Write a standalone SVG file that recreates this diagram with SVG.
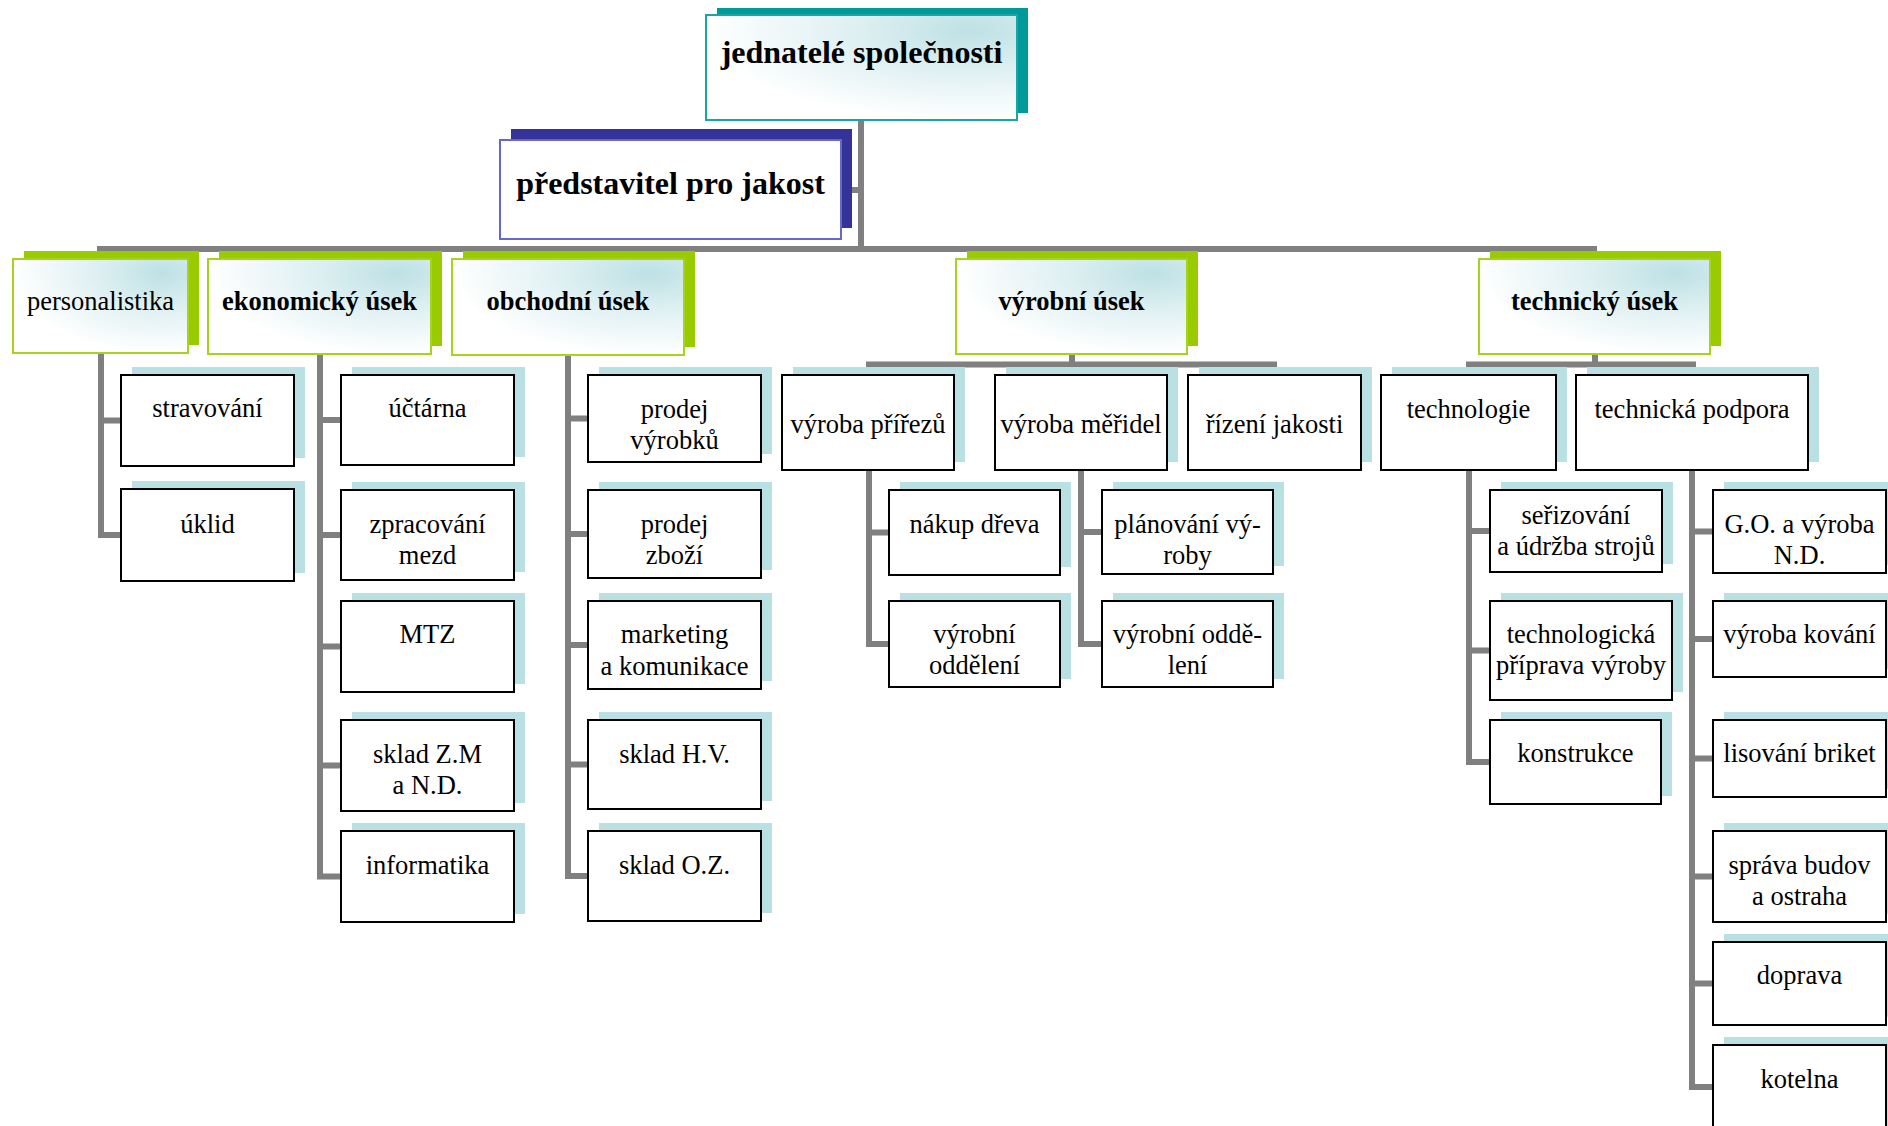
<svg xmlns="http://www.w3.org/2000/svg" width="1888" height="1126" viewBox="0 0 1888 1126">
<defs>
<style>
.sh3{fill:#b9e0e3}
.b3{fill:#ffffff;stroke:#000000;stroke-width:2}
.sh2{fill:#99cc00}
.b2{fill:url(#g);stroke:#a6d41e;stroke-width:2}
.t{font-family:"Liberation Serif","Times New Roman",serif;font-size:26.5px;fill:#000000;text-anchor:middle}
.tb{font-weight:bold}
.big{font-size:32px}
.c{fill:none;stroke:#808080;stroke-width:6;stroke-linejoin:miter;stroke-linecap:butt}
</style>
<radialGradient id="g" cx="0.85" cy="0.15" r="0.85">
<stop offset="0" stop-color="#bde1e5"/>
<stop offset="0.45" stop-color="#dff0f2"/>
<stop offset="1" stop-color="#ffffff"/>
</radialGradient>
</defs>
<rect width="1888" height="1126" fill="#ffffff"/>

<g id="connectors">
<path class="c" d="M861,120 V249"/>
<path class="c" d="M841,190 H861"/>
<path class="c" d="M97,249 H1597"/>
<path class="c" d="M101,353 V535 H121 M101,420.5 H121"/>
<path class="c" d="M320,354 V876.5 H341 M320,420 H341 M320,535 H341 M320,646.5 H341 M320,765.5 H341"/>
<path class="c" d="M568,355 V876 H588 M568,418.5 H588 M568,534 H588 M568,645 H588 M568,764.5 H588"/>
<path class="c" d="M1072,354 V364.5 M866,364.5 H1277"/>
<path class="c" d="M869,470 V644 H889 M869,532.5 H889"/>
<path class="c" d="M1081,470 V644 H1102 M1081,532 H1102"/>
<path class="c" d="M1595,354 V364.5 M1466,364.5 H1696"/>
<path class="c" d="M1469,470 V762 H1490 M1469,531 H1490 M1469,650.5 H1490"/>
<path class="c" d="M1692,470 V1087 H1713 M1692,531.5 H1713 M1692,639 H1713 M1692,758.5 H1713 M1692,876.5 H1713 M1692,983.5 H1713"/>
</g>

<g id="jednatele">
<rect x="717" y="8" width="311" height="105" fill="#009999"/>
<rect x="706" y="15" width="311" height="105" fill="url(#g)" stroke="#1aa5a5" stroke-width="2"/>
<text class="t tb big" x="861.5" y="63">jednatelé společnosti</text>
</g>
<g id="predstavitel">
<rect x="511" y="129" width="341" height="99" fill="#333399"/>
<rect x="500" y="140" width="341" height="99" fill="#ffffff" stroke="#6666cc" stroke-width="2"/>
<text class="t tb big" x="670.5" y="194">představitel pro jakost</text>
</g>

<g id="personalistika">
<rect class="sh2" x="24" y="251" width="175" height="94"/>
<rect class="b2" x="13" y="259" width="175" height="94"/>
<text class="t" x="100.5" y="310">personalistika</text>
</g>
<g id="ekonomicky">
<rect class="sh2" x="219" y="251" width="223" height="95"/>
<rect class="b2" x="208" y="259" width="223" height="95"/>
<text class="t tb" x="319.5" y="310">ekonomický úsek</text>
</g>
<g id="obchodni">
<rect class="sh2" x="463" y="251" width="232" height="96"/>
<rect class="b2" x="452" y="259" width="232" height="96"/>
<text class="t tb" x="568" y="310">obchodní úsek</text>
</g>
<g id="vyrobni">
<rect class="sh2" x="967" y="251" width="231" height="95"/>
<rect class="b2" x="956" y="259" width="231" height="95"/>
<text class="t tb" x="1071.5" y="310">výrobní úsek</text>
</g>
<g id="technicky">
<rect class="sh2" x="1490" y="251" width="231" height="95"/>
<rect class="b2" x="1479" y="259" width="231" height="95"/>
<text class="t tb" x="1594.5" y="310">technický úsek</text>
</g>

<g id="stravovani">
<rect class="sh3" x="132" y="367" width="173" height="91"/>
<rect class="b3" x="121" y="375" width="173" height="91"/>
<text class="t" x="207.5" y="417">stravování</text>
</g>
<g id="uklid">
<rect class="sh3" x="132" y="481" width="173" height="92"/>
<rect class="b3" x="121" y="489" width="173" height="92"/>
<text class="t" x="207.5" y="533">úklid</text>
</g>

<g id="uctarna">
<rect class="sh3" x="352" y="367" width="173" height="90"/>
<rect class="b3" x="341" y="375" width="173" height="90"/>
<text class="t" x="427.5" y="417">účtárna</text>
</g>
<g id="zpracovani">
<rect class="sh3" x="352" y="482" width="173" height="90"/>
<rect class="b3" x="341" y="490" width="173" height="90"/>
<text class="t" x="427.5" y="533">zpracování<tspan x="427.5" dy="31">mezd</tspan></text>
</g>
<g id="mtz">
<rect class="sh3" x="352" y="593" width="173" height="91"/>
<rect class="b3" x="341" y="601" width="173" height="91"/>
<text class="t" x="427.5" y="643">MTZ</text>
</g>
<g id="skladzm">
<rect class="sh3" x="352" y="712" width="173" height="91"/>
<rect class="b3" x="341" y="720" width="173" height="91"/>
<text class="t" x="427.5" y="763">sklad Z.M<tspan x="427.5" dy="31">a N.D.</tspan></text>
</g>
<g id="informatika">
<rect class="sh3" x="352" y="823" width="173" height="91"/>
<rect class="b3" x="341" y="831" width="173" height="91"/>
<text class="t" x="427.5" y="874">informatika</text>
</g>

<g id="prodejvyrobku">
<rect class="sh3" x="599" y="367" width="173" height="87"/>
<rect class="b3" x="588" y="375" width="173" height="87"/>
<text class="t" x="674.5" y="418">prodej<tspan x="674.5" dy="31">výrobků</tspan></text>
</g>
<g id="prodejzbozi">
<rect class="sh3" x="599" y="482" width="173" height="88"/>
<rect class="b3" x="588" y="490" width="173" height="88"/>
<text class="t" x="674.5" y="533">prodej<tspan x="674.5" dy="31">zboží</tspan></text>
</g>
<g id="marketing">
<rect class="sh3" x="599" y="593" width="173" height="88"/>
<rect class="b3" x="588" y="601" width="173" height="88"/>
<text class="t" x="674.5" y="643">marketing<tspan x="674.5" dy="32">a komunikace</tspan></text>
</g>
<g id="skladhv">
<rect class="sh3" x="599" y="712" width="173" height="89"/>
<rect class="b3" x="588" y="720" width="173" height="89"/>
<text class="t" x="674.5" y="763">sklad H.V.</text>
</g>
<g id="skladoz">
<rect class="sh3" x="599" y="823" width="173" height="90"/>
<rect class="b3" x="588" y="831" width="173" height="90"/>
<text class="t" x="674.5" y="874">sklad O.Z.</text>
</g>

<g id="vyrobaprirezu">
<rect class="sh3" x="793" y="367" width="172" height="95"/>
<rect class="b3" x="782" y="375" width="172" height="95"/>
<text class="t" x="868" y="433">výroba přířezů</text>
</g>
<g id="vyrobameridel">
<rect class="sh3" x="1006" y="367" width="172" height="95"/>
<rect class="b3" x="995" y="375" width="172" height="95"/>
<text class="t" x="1081" y="433">výroba měřidel</text>
</g>
<g id="rizenijakosti">
<rect class="sh3" x="1199" y="367" width="173" height="95"/>
<rect class="b3" x="1188" y="375" width="173" height="95"/>
<text class="t" x="1274.5" y="433">řízení jakosti</text>
</g>
<g id="nakupdreva">
<rect class="sh3" x="900" y="482" width="171" height="85"/>
<rect class="b3" x="889" y="490" width="171" height="85"/>
<text class="t" x="974.5" y="533">nákup dřeva</text>
</g>
<g id="vyrobnioddeleni1">
<rect class="sh3" x="900" y="593" width="171" height="86"/>
<rect class="b3" x="889" y="601" width="171" height="86"/>
<text class="t" x="974.5" y="643">výrobní<tspan x="974.5" dy="31">oddělení</tspan></text>
</g>
<g id="planovani">
<rect class="sh3" x="1113" y="482" width="171" height="84"/>
<rect class="b3" x="1102" y="490" width="171" height="84"/>
<text class="t" x="1187.5" y="533">plánování vý-<tspan x="1187.5" dy="31">roby</tspan></text>
</g>
<g id="vyrobnioddeleni2">
<rect class="sh3" x="1113" y="593" width="171" height="86"/>
<rect class="b3" x="1102" y="601" width="171" height="86"/>
<text class="t" x="1187.5" y="643">výrobní oddě-<tspan x="1187.5" dy="31">lení</tspan></text>
</g>

<g id="technologie">
<rect class="sh3" x="1392" y="367" width="175" height="95"/>
<rect class="b3" x="1381" y="375" width="175" height="95"/>
<text class="t" x="1468.5" y="418">technologie</text>
</g>
<g id="technickapodpora">
<rect class="sh3" x="1587" y="367" width="232" height="95"/>
<rect class="b3" x="1576" y="375" width="232" height="95"/>
<text class="t" x="1692" y="418">technická podpora</text>
</g>
<g id="serizovani">
<rect class="sh3" x="1501" y="482" width="172" height="82"/>
<rect class="b3" x="1490" y="490" width="172" height="82"/>
<text class="t" x="1576" y="524">seřizování<tspan x="1576" dy="31">a údržba strojů</tspan></text>
</g>
<g id="technologicka">
<rect class="sh3" x="1501" y="593" width="182" height="99"/>
<rect class="b3" x="1490" y="601" width="182" height="99"/>
<text class="t" x="1581" y="643">technologická<tspan x="1581" dy="31">příprava výroby</tspan></text>
</g>
<g id="konstrukce">
<rect class="sh3" x="1501" y="712" width="171" height="84"/>
<rect class="b3" x="1490" y="720" width="171" height="84"/>
<text class="t" x="1575.5" y="762">konstrukce</text>
</g>
<g id="govyroba">
<rect class="sh3" x="1724" y="482" width="173" height="83"/>
<rect class="b3" x="1713" y="490" width="173" height="83"/>
<text class="t" x="1799.5" y="533">G.O. a výroba<tspan x="1799.5" dy="31">N.D.</tspan></text>
</g>
<g id="vyrobakovani">
<rect class="sh3" x="1724" y="593" width="173" height="76"/>
<rect class="b3" x="1713" y="601" width="173" height="76"/>
<text class="t" x="1799.5" y="643">výroba kování</text>
</g>
<g id="lisovani">
<rect class="sh3" x="1724" y="712" width="173" height="77"/>
<rect class="b3" x="1713" y="720" width="173" height="77"/>
<text class="t" x="1799.5" y="762">lisování briket</text>
</g>
<g id="spravabudov">
<rect class="sh3" x="1724" y="823" width="173" height="91"/>
<rect class="b3" x="1713" y="831" width="173" height="91"/>
<text class="t" x="1799.5" y="874">správa budov<tspan x="1799.5" dy="31">a ostraha</tspan></text>
</g>
<g id="doprava">
<rect class="sh3" x="1724" y="934" width="173" height="83"/>
<rect class="b3" x="1713" y="942" width="173" height="83"/>
<text class="t" x="1799.5" y="984">doprava</text>
</g>
<g id="kotelna">
<rect class="sh3" x="1724" y="1037" width="173" height="92"/>
<rect class="b3" x="1713" y="1045" width="173" height="92"/>
<text class="t" x="1799.5" y="1088">kotelna</text>
</g>
</svg>
